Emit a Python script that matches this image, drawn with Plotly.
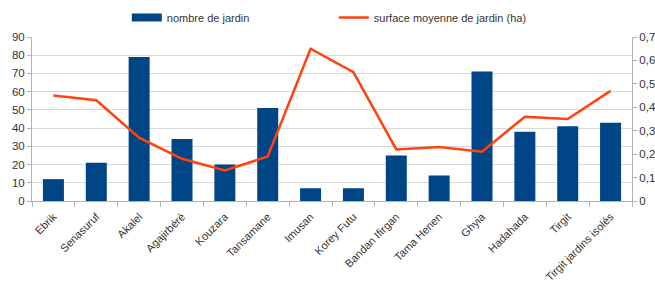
import plotly.graph_objects as go

categories = ["Ebrik", "Senasuruf", "Akalel", "Agajirbéré", "Kouzara", "Tansamane", "Imusan",
              "Korey Futu", "Bandan Ifirgan", "Tama Henen", "Ghyia", "Hadahada", "Tirgit",
              "Tirgit jardins isolés"]
nombre = [12, 21, 79, 34, 20, 51, 7, 7, 25, 14, 71, 38, 41, 43]
surface = [0.45, 0.43, 0.27, 0.18, 0.13, 0.19, 0.65, 0.55, 0.22, 0.23, 0.21, 0.36, 0.35, 0.47]
left_ticks = [0, 10, 20, 30, 40, 50, 60, 70, 80, 90]
right_ticks = [0, 0.1, 0.2, 0.3, 0.4, 0.5, 0.6, 0.7]
right_labels = ["0", "0,1", "0,2", "0,3", "0,4", "0,5", "0,6", "0,7"]

BAR_COL = "#004586"
LINE_COL = "#ff420e"

fig = go.Figure()
fig.add_trace(go.Bar(x=categories, y=nombre, name="nombre de jardin", showlegend=False,
                     marker=dict(color=BAR_COL, line=dict(width=0))))
# legend-only entry to mimic the wide rectangular swatch of the bar series
fig.add_trace(go.Scatter(x=[None], y=[None], name="nombre de jardin", mode="lines",
                         line=dict(color=BAR_COL, width=8), hoverinfo="skip"))
fig.add_trace(go.Scatter(x=categories, y=surface, name="surface moyenne de jardin (ha)",
                         mode="lines", line=dict(color=LINE_COL, width=2.5), yaxis="y2"))

axis_col = "#b3b3b3"
fig.update_layout(
    width=655, height=284,
    margin=dict(l=32, r=23, t=37, b=83, autoexpand=False),
    paper_bgcolor="white", plot_bgcolor="white",
    font=dict(family="Liberation Sans, Arial, sans-serif", size=11, color="#333333"),
    bargap=0.51,
    showlegend=True,
    legend=dict(orientation="h", x=0.158, xanchor="left", y=1.03, yanchor="bottom",
                entrywidth=162, entrywidthmode="pixels",
                font=dict(size=11, color="#333333"), bgcolor="rgba(0,0,0,0)",
                itemwidth=30),
    xaxis=dict(tickangle=-45, tickfont=dict(size=11, color="#333333"),
               showline=True, linecolor=axis_col, ticks="outside", tickson="boundaries",
               tickcolor=axis_col, ticklen=5, showgrid=False, ticklabelstandoff=4),
    yaxis=dict(range=[0, 90], tickvals=left_ticks, showgrid=True, gridcolor="#d9d9d9",
               showline=True, linecolor=axis_col, ticks="outside", tickcolor=axis_col,
               ticklen=4, zeroline=False, tickfont=dict(size=11.5, color="#333333")),
    yaxis2=dict(range=[0, 0.7], tickvals=right_ticks, ticktext=right_labels,
                overlaying="y", side="right", showgrid=False, showline=True,
                linecolor=axis_col, ticks="outside", tickcolor=axis_col, ticklen=4,
                zeroline=False, tickfont=dict(size=11.5, color="#333333")),
)

fig.write_html("out.html", config={"displayModeBar": False},
               post_script="document.body.style.margin='0';")
